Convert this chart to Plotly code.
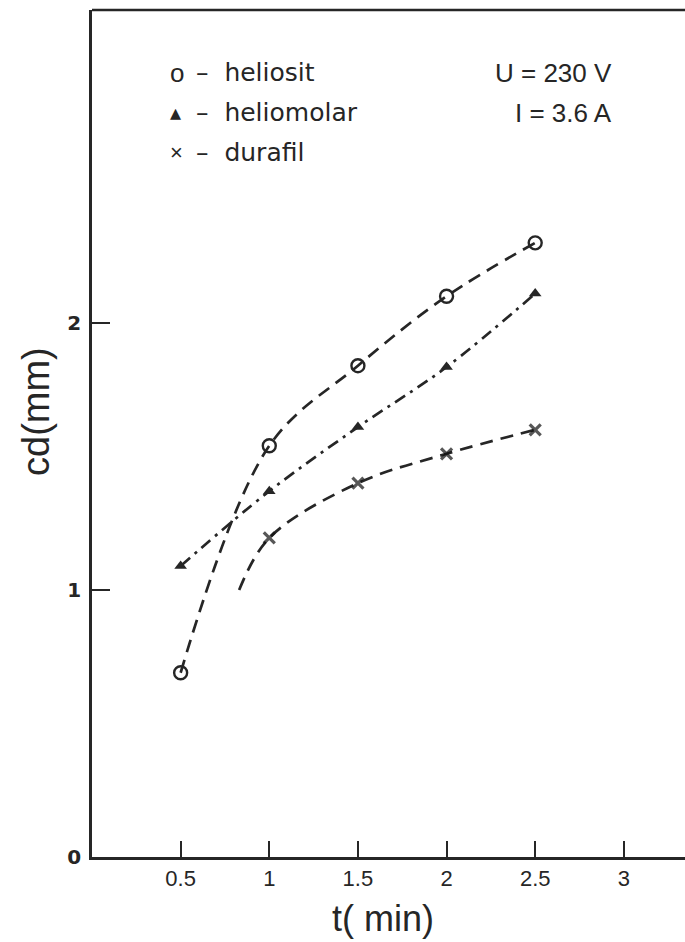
import plotly.graph_objects as go

t = [0.5, 1, 1.5, 2, 2.5]
heliosit = [0.69, 1.54, 1.84, 2.10, 2.30]
heliomolar = [1.09, 1.37, 1.61, 1.835, 2.11]
durafil_t = [0.83, 1, 1.5, 2, 2.5]
durafil = [1.00, 1.195, 1.40, 1.51, 1.60]
durafil_marker = [0, 11, 11, 11, 11]

x_ticks = [0.5, 1, 1.5, 2, 2.5, 3]
x_labels = ["0.5", "1", "1.5", "2", "2.5", "3"]
y_ticks = [0, 1, 2]
y_labels = ["<b>0</b>", "<b>1</b>", "<b>2</b>"]

ink = "#262626"
font = "Liberation Sans"
W, H = 685, 942
L, R, T, B = 92, 0, 10, 85
PW, PH = W - L - R, H - T - B


def px(xp):
    return (xp - L) / PW


def py(yp):
    return 1 - (yp - T) / PH


fig = go.Figure()
fig.add_trace(go.Scatter(
    x=t, y=heliosit, mode="lines+markers", line_shape="spline",
    line=dict(color=ink, width=2.7, dash="13px,8px"),
    marker=dict(symbol="circle-open", size=13, color=ink, line=dict(width=2.4, color=ink)),
))
fig.add_trace(go.Scatter(
    x=t, y=heliomolar, mode="lines+markers", line_shape="spline",
    line=dict(color=ink, width=2.7, dash="12px,6px,3px,6px"),
    marker=dict(symbol="triangle-up", size=11, color=ink),
))
fig.add_trace(go.Scatter(
    x=durafil_t, y=durafil, mode="lines+markers", line_shape="spline",
    line=dict(color=ink, width=2.7, dash="13px,8px"),
    marker=dict(symbol="x-thin", size=durafil_marker, color="#111111",
                line=dict(width=3.2, color="#111111")),
))

fig.update_layout(
    width=W, height=H,
    margin=dict(l=L, r=R, t=T, b=B),
    paper_bgcolor="white", plot_bgcolor="white",
    showlegend=False,
    font=dict(family=font, color=ink),
    xaxis=dict(
        range=[0, 3.345], tickvals=x_ticks, ticktext=x_labels,
        ticks="inside", ticklen=16, tickwidth=2.2, tickcolor=ink,
        showline=True, linecolor=ink, linewidth=2.7, showgrid=False, zeroline=False,
        tickfont=dict(size=22, family=font, color=ink), ticklabelstandoff=0,
    ),
    yaxis=dict(
        range=[0, 3.172], tickvals=y_ticks, ticktext=y_labels,
        ticks="inside", ticklen=18, tickwidth=2.2, tickcolor=ink,
        showline=True, linecolor=ink, linewidth=2.7, showgrid=False, zeroline=False,
        tickfont=dict(size=20, family="DejaVu Sans", color=ink), ticklabelstandoff=4,
    ),
    shapes=[dict(type="line", xref="paper", yref="paper", x0=0, x1=1, y0=1, y1=1,
                 line=dict(color=ink, width=2.7))],
)

# axis titles
fig.add_annotation(xref="paper", yref="paper", x=px(383), y=py(918), showarrow=False,
                   xanchor="center", yanchor="middle", text="t( min)",
                   font=dict(size=36, family=font, color=ink))
fig.add_annotation(xref="paper", yref="paper", x=px(36), y=py(412), showarrow=False,
                   xanchor="center", yanchor="middle", text="cd(mm)", textangle=-90,
                   font=dict(size=38, family=font, color=ink))

legend_items = [("o", "heliosit", 73, 26), ("\u25b4", "heliomolar", 113, 22), ("\u00d7", "durafil", 153, 22)]
for sym, name, ypx, fs in legend_items:
    fig.add_annotation(xref="paper", yref="paper", x=px(168), y=py(ypx),
                       xanchor="left", yanchor="middle", showarrow=False,
                       text=sym, font=dict(size=fs, family=font, color=ink))
    fig.add_annotation(xref="paper", yref="paper", x=px(194), y=py(ypx),
                       xanchor="left", yanchor="middle", showarrow=False,
                       text="\u2013  " + name, font=dict(size=25, family="DejaVu Sans", color=ink))
for txt, ypx in [("U = 230 V", 73), ("I = 3.6 A", 113)]:
    fig.add_annotation(xref="paper", yref="paper", x=px(614), y=py(ypx),
                       xanchor="right", yanchor="middle", showarrow=False,
                       text=txt, font=dict(size=26, family=font, color=ink))

fig.write_html("out.html")
